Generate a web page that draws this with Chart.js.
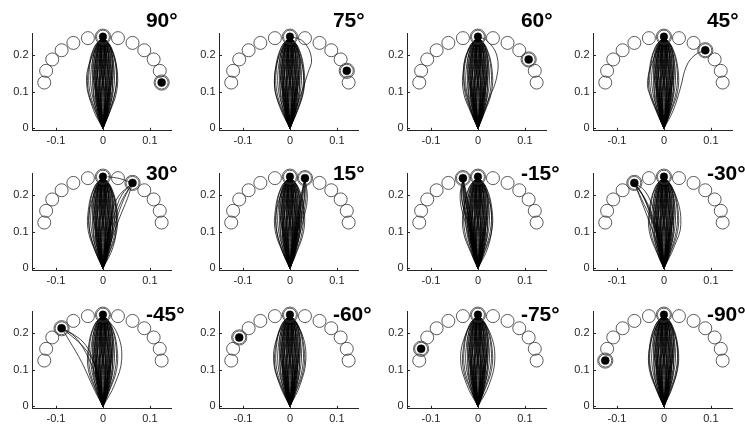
<!DOCTYPE html>
<html>
<head>
<meta charset="utf-8">
<script src="https://cdn.jsdelivr.net/npm/chart.js@4"></script>
<style>
html, body { margin: 0; padding: 0; background: #fff; overflow: hidden; width: 745px; height: 428px; }
#wrap { position: relative; width: 745px; height: 428px; }
#wrap canvas { position: absolute; }
</style>
</head>
<body>
<div id="wrap"></div>
<script>
// Panel labels (target direction) in reading order
const panelTitles = ['90°', '75°', '60°', '45°', '30°', '15°', '-15°', '-30°', '-45°', '-60°', '-75°', '-90°'];

// Ring of 13 targets (m)
const targetX = [-0.125, -0.121, -0.108, -0.088, -0.063, -0.032, 0, 0.032, 0.063, 0.088, 0.108, 0.121, 0.125];
const targetY = [0.125, 0.157, 0.188, 0.213, 0.233, 0.246, 0.25, 0.246, 0.233, 0.213, 0.188, 0.157, 0.125];
const homeTarget = 6;

// Index of the cued target in each panel
const activeTarget = [12, 11, 10, 9, 8, 7, 5, 4, 3, 2, 1, 0];

// Common bundle of reaches to the straight-ahead target:
// lateral position at each height level, start (0,0) and end (0,0.25)
const bundleLevels = [0.04, 0.10, 0.16, 0.22];
const bundlePaths = [
  [-0.002, -0.003, -0.003, -0.002], [0.002, 0.003, 0.003, 0.002],
  [-0.003, -0.006, -0.006, -0.004], [0.003, 0.005, 0.006, 0.004],
  [-0.004, -0.008, -0.008, -0.005], [0.004, 0.008, 0.009, 0.006],
  [-0.005, -0.010, -0.011, -0.007], [0.005, 0.010, 0.010, 0.006],
  [-0.006, -0.012, -0.013, -0.008], [0.006, 0.012, 0.013, 0.009],
  [-0.007, -0.014, -0.015, -0.010], [0.007, 0.014, 0.015, 0.009],
  [-0.008, -0.017, -0.018, -0.011], [0.008, 0.016, 0.018, 0.012],
  [-0.009, -0.020, -0.021, -0.013], [0.009, 0.019, 0.021, 0.013],
  [-0.011, -0.024, -0.025, -0.015], [0.010, 0.022, 0.024, 0.015],
  [-0.013, -0.028, -0.029, -0.018], [0.012, 0.026, 0.028, 0.017],
  [-0.014, -0.031, -0.031, -0.019], [0.013, 0.029, 0.030, 0.018],
  [-0.006, -0.004, 0.004, 0.005], [0.006, 0.004, -0.004, -0.005],
  [-0.008, -0.010, -0.002, 0.004], [0.008, 0.009, 0.002, -0.004],
  [-0.003, -0.011, -0.016, -0.012], [0.003, 0.011, 0.017, 0.012],
  [-0.010, -0.016, -0.010, -0.003], [0.010, 0.016, 0.010, 0.003],
  [-0.002, -0.006, -0.012, -0.010], [0.002, 0.007, 0.012, 0.010],
  [-0.007, -0.009, -0.006, -0.003], [0.007, 0.009, 0.006, 0.003],
  [-0.004, -0.013, -0.019, -0.014], [0.004, 0.013, 0.020, 0.015],
  [-0.009, -0.015, -0.014, -0.009], [0.009, 0.015, 0.014, 0.009],
  [-0.001, -0.001, -0.001, -0.001], [0.001, 0.001, 0.001, 0.001],
  [-0.005, -0.007, -0.004, -0.002], [0.005, 0.006, 0.004, 0.002],
  [-0.012, -0.021, -0.018, -0.010], [0.011, 0.020, 0.017, 0.010],
  [-0.006, -0.015, -0.022, -0.016], [0.006, 0.015, 0.022, 0.016],
  [-0.003, -0.002, 0.002, 0.002], [0.003, 0.002, -0.002, -0.002],
  [-0.008, -0.013, -0.011, -0.006], [0.008, 0.012, 0.011, 0.007],
  [-0.004, -0.005, -0.007, -0.006], [0.004, 0.005, 0.007, 0.006]
];

// Per-panel extra trajectories: [x, y] vertices
const extraPaths = [
  // 90°
  [
    [[0, 0], [-0.02, 0.05], [-0.035, 0.13], [-0.022, 0.2], [0, 0.25]],
    [[0, 0], [0.018, 0.06], [0.03, 0.14], [0.02, 0.21], [0, 0.25]]
  ],
  // 75°
  [
    [[0, 0], [0.02, 0.08], [0.038, 0.15], [0.046, 0.19], [0.03, 0.235], [0.005, 0.25]],
    [[0, 0], [-0.022, 0.06], [-0.033, 0.12], [-0.025, 0.19], [0, 0.25]],
    [[0, 0], [0.022, 0.07], [0.03, 0.13], [0.02, 0.2], [0, 0.25]]
  ],
  // 60°
  [
    [[0, 0], [0.02, 0.07], [0.04, 0.14], [0.04, 0.2], [0.02, 0.238], [0.003, 0.25]],
    [[0, 0], [-0.02, 0.07], [-0.03, 0.14], [-0.025, 0.2], [0, 0.25]]
  ],
  // 45°
  [
    [[0, 0], [0.02, 0.05], [0.035, 0.11], [0.048, 0.17], [0.066, 0.2], [0.088, 0.213]],
    [[0, 0], [-0.022, 0.07], [-0.035, 0.12], [-0.022, 0.19], [0, 0.25]]
  ],
  // 30°
  [
    [[0, 0], [0.012, 0.06], [0.028, 0.13], [0.045, 0.19], [0.063, 0.233]],
    [[0, 0], [0.01, 0.05], [0.02, 0.11], [0.038, 0.18], [0.063, 0.233]],
    [[0, 0], [0.016, 0.07], [0.036, 0.14], [0.052, 0.19], [0.063, 0.233]],
    [[0, 0], [0.006, 0.05], [0.015, 0.12], [0.03, 0.19], [0.063, 0.233]],
    [[0.063, 0.233], [0.04, 0.2], [0.025, 0.15], [0.012, 0.09], [0, 0]],
    [[0.063, 0.233], [0.035, 0.245], [0.01, 0.25]],
    [[0, 0], [-0.02, 0.06], [-0.03, 0.13], [-0.02, 0.2], [0, 0.25]],
    [[0, 0], [0.022, 0.06], [0.028, 0.12], [0.022, 0.2], [0, 0.25]]
  ],
  // 15°
  [
    [[0, 0], [0.012, 0.06], [0.024, 0.125], [0.034, 0.19], [0.032, 0.246]],
    [[0, 0], [0.006, 0.06], [0.014, 0.125], [0.024, 0.19], [0.032, 0.246]],
    [[0, 0], [0.01, 0.06], [0.02, 0.125], [0.03, 0.19], [0.032, 0.246]],
    [[0, 0], [0.005, 0.06], [0.012, 0.125], [0.022, 0.19], [0.032, 0.246]],
    [[0, 0], [0.014, 0.06], [0.027, 0.125], [0.037, 0.19], [0.032, 0.246]],
    [[0, 0], [0.008, 0.06], [0.017, 0.125], [0.027, 0.19], [0.032, 0.246]],
    [[0, 0], [0.011, 0.06], [0.019, 0.125], [0.025, 0.19], [0.032, 0.246]],
    [[0, 0], [0.007, 0.06], [0.022, 0.125], [0.031, 0.19], [0.032, 0.246]],
    [[0, 0], [-0.02, 0.06], [-0.03, 0.13], [-0.02, 0.2], [0, 0.25]]
  ],
  // -15°
  [
    [[0, 0], [-0.012, 0.06], [-0.024, 0.125], [-0.034, 0.19], [-0.032, 0.246]],
    [[0, 0], [-0.006, 0.06], [-0.014, 0.125], [-0.024, 0.19], [-0.032, 0.246]],
    [[0, 0], [-0.01, 0.06], [-0.02, 0.125], [-0.03, 0.19], [-0.032, 0.246]],
    [[0, 0], [-0.005, 0.06], [-0.012, 0.125], [-0.022, 0.19], [-0.032, 0.246]],
    [[0, 0], [-0.014, 0.06], [-0.027, 0.125], [-0.038, 0.19], [-0.032, 0.246]],
    [[0, 0], [-0.008, 0.06], [-0.017, 0.125], [-0.027, 0.19], [-0.032, 0.246]],
    [[0, 0], [-0.011, 0.06], [-0.019, 0.125], [-0.025, 0.19], [-0.032, 0.246]],
    [[0, 0], [-0.007, 0.06], [-0.022, 0.125], [-0.031, 0.19], [-0.032, 0.246]],
    [[0, 0], [-0.009, 0.06], [-0.016, 0.125], [-0.028, 0.19], [-0.032, 0.246]],
    [[0, 0], [-0.013, 0.06], [-0.021, 0.125], [-0.035, 0.19], [-0.032, 0.246]],
    [[0, 0], [0.022, 0.06], [0.03, 0.13], [0.02, 0.2], [0, 0.25]]
  ],
  // -30°
  [
    [[0, 0], [-0.008, 0.06], [-0.02, 0.12], [-0.042, 0.19], [-0.063, 0.233]],
    [[0, 0], [-0.01, 0.07], [-0.026, 0.13], [-0.048, 0.19], [-0.063, 0.233]],
    [[0, 0], [-0.006, 0.06], [-0.016, 0.11], [-0.036, 0.18], [-0.063, 0.233]],
    [[-0.063, 0.233], [-0.045, 0.2], [-0.03, 0.15], [-0.015, 0.09], [0, 0]],
    [[-0.063, 0.233], [-0.05, 0.19], [-0.035, 0.14], [-0.018, 0.08], [0, 0]],
    [[-0.063, 0.233], [-0.04, 0.21], [-0.022, 0.16], [-0.01, 0.1], [0, 0]],
    [[0, 0], [0.022, 0.06], [0.036, 0.12], [0.025, 0.2], [0, 0.25]]
  ],
  // -45°
  [
    [[-0.088, 0.213], [-0.065, 0.19], [-0.04, 0.16], [-0.02, 0.12], [-0.005, 0.05], [0, 0]],
    [[0, 0], [-0.01, 0.06], [-0.03, 0.13], [-0.06, 0.19], [-0.088, 0.213]],
    [[0, 0], [-0.02, 0.05], [-0.045, 0.12], [-0.072, 0.18], [-0.088, 0.213]],
    [[-0.088, 0.213], [-0.068, 0.2], [-0.042, 0.175], [-0.025, 0.14], [-0.012, 0.08], [0, 0]],
    [[0, 0], [0.025, 0.06], [0.04, 0.13], [0.03, 0.2], [0, 0.25]]
  ],
  // -60°
  [
    [[0, 0], [-0.022, 0.06], [-0.035, 0.13], [-0.024, 0.2], [0, 0.25]],
    [[0, 0], [0.022, 0.06], [0.034, 0.13], [0.025, 0.2], [0, 0.25]]
  ],
  // -75°
  [
    [[0, 0], [-0.024, 0.06], [-0.037, 0.13], [-0.025, 0.2], [0, 0.25]],
    [[0, 0], [0.024, 0.06], [0.036, 0.13], [0.026, 0.2], [0, 0.25]]
  ],
  // -90°
  [
    [[0, 0], [-0.02, 0.06], [-0.032, 0.13], [-0.022, 0.2], [0, 0.25]],
    [[0, 0], [0.02, 0.06], [0.03, 0.13], [0.022, 0.2], [0, 0.25]]
  ]
];

const xTicks = [-0.1, 0, 0.1];
const xTickLabels = ['-0.1', '0', '0.1'];
const yTicks = [0, 0.1, 0.2];
const yTickLabels = ['0', '0.1', '0.2'];

// ---- layout of the 4 x 3 grid ----
const colLeft = [0, 187, 375, 561];
const rowTop = [0, 140, 278];
const titleBaseline = [27, 40, 42.7];
const CW = 186, CH = 150;

const tickFont = { family: '"Liberation Sans", Arial, sans-serif', size: 11 };

// Title text drawn beside the top-right of each axes
const panelTitlePlugin = {
  id: 'panelTitle',
  afterDraw(chart, args, opts) {
    const ctx = chart.ctx;
    ctx.save();
    ctx.font = 'bold 21px "Liberation Sans", Arial, sans-serif';
    ctx.fillStyle = '#000';
    ctx.textAlign = 'left';
    ctx.textBaseline = 'alphabetic';
    ctx.fillText(opts.text, chart.scales.x.getPixelForValue(0) + 43, opts.baseline);
    ctx.restore();
  }
};

// Small inward tick marks on both axes
const innerTicksPlugin = {
  id: 'innerTicks',
  afterDraw(chart) {
    const ctx = chart.ctx, xs = chart.scales.x, ys = chart.scales.y, a = chart.chartArea;
    ctx.save();
    ctx.strokeStyle = '#262626';
    ctx.lineWidth = 1;
    ctx.beginPath();
    xTicks.forEach(v => {
      const px = Math.round(xs.getPixelForValue(v)) + 0.5;
      ctx.moveTo(px, a.bottom); ctx.lineTo(px, a.bottom - 2.5);
    });
    yTicks.forEach(v => {
      const py = Math.round(ys.getPixelForValue(v)) + 0.5;
      ctx.moveTo(a.left, py); ctx.lineTo(a.left + 2.5, py);
    });
    ctx.stroke();
    ctx.restore();
  }
};

const wrap = document.getElementById('wrap');

panelTitles.forEach((title, k) => {
  const col = k % 4, row = Math.floor(k / 4);
  const canvas = document.createElement('canvas');
  canvas.width = CW; canvas.height = CH;
  canvas.style.left = colLeft[col] + 'px';
  canvas.style.top = rowTop[row] + 'px';
  canvas.style.width = CW + 'px';
  canvas.style.height = CH + 'px';
  wrap.appendChild(canvas);

  const lineStyle = {
    showLine: true, tension: 0.4, borderColor: 'rgba(0,0,0,0.9)', borderWidth: 0.8,
    pointRadius: 0, pointHoverRadius: 0, fill: false, clip: false
  };

  const datasets = [];
  const act = activeTarget[k];

  // cued target: filled dot
  datasets.push({
    data: [{ x: targetX[act], y: targetY[act] }],
    pointRadius: 4, pointBackgroundColor: '#000', pointBorderColor: '#000', pointBorderWidth: 0.5,
    showLine: false, clip: false
  });
  // home target filled centre
  datasets.push({
    data: [{ x: targetX[homeTarget], y: targetY[homeTarget] }],
    pointRadius: 3.8, pointBackgroundColor: '#000', pointBorderColor: '#000', pointBorderWidth: 0.5,
    showLine: false, clip: false
  });
  // outer rings on cued and home target
  datasets.push({
    data: [{ x: targetX[act], y: targetY[act] }, { x: targetX[homeTarget], y: targetY[homeTarget] }],
    pointRadius: 7.6, pointBackgroundColor: 'rgba(0,0,0,0)', pointBorderColor: '#333', pointBorderWidth: 0.8,
    showLine: false, clip: false
  });
  // all targets
  datasets.push({
    data: targetX.map((x, i) => ({ x, y: targetY[i] })),
    pointRadius: 6.5, pointBackgroundColor: 'rgba(0,0,0,0)', pointBorderColor: '#333', pointBorderWidth: 0.8,
    showLine: false, clip: false
  });

  // per-panel trajectories
  extraPaths[k].forEach(path => {
    datasets.push(Object.assign({ data: path.map(p => ({ x: p[0], y: p[1] })) }, lineStyle));
  });
  // common bundle
  bundlePaths.forEach(p => {
    const pts = [{ x: 0, y: 0 }];
    bundleLevels.forEach((y, i) => pts.push({ x: p[i], y }));
    pts.push({ x: 0, y: 0.25 });
    datasets.push(Object.assign({ data: pts }, lineStyle));
  });

  new Chart(canvas, {
    type: 'scatter',
    data: { datasets },
    plugins: [panelTitlePlugin, innerTicksPlugin],
    options: {
      responsive: false,
      devicePixelRatio: 1,
      animation: false,
      events: [],
      layout: { padding: { top: 33, right: 14.5, left: 0, bottom: 0 } },
      plugins: {
        legend: { display: false },
        tooltip: { enabled: false },
        panelTitle: { text: title, baseline: titleBaseline[row] }
      },
      scales: {
        x: {
          type: 'linear', min: -0.15, max: 0.146,
          grid: { display: false, drawTicks: false },
          border: { display: true, color: '#262626', width: 1 },
          afterBuildTicks: s => { s.ticks = xTicks.map(v => ({ value: v })); },
          afterFit: s => { s.height = 19.7; },
          ticks: {
            color: '#262626', font: tickFont, padding: 4, maxRotation: 0, autoSkip: false,
            callback: (v, i) => xTickLabels[i]
          }
        },
        y: {
          type: 'linear', min: -0.005, max: 0.26,
          grid: { display: false, drawTicks: false },
          border: { display: true, color: '#262626', width: 1 },
          afterBuildTicks: s => { s.ticks = yTicks.map(v => ({ value: v })); },
          afterFit: s => { s.width = 32.5; },
          ticks: {
            color: '#262626', font: tickFont, padding: 4, autoSkip: false,
            callback: (v, i) => yTickLabels[i]
          }
        }
      }
    }
  });
});
</script>
</body>
</html>
